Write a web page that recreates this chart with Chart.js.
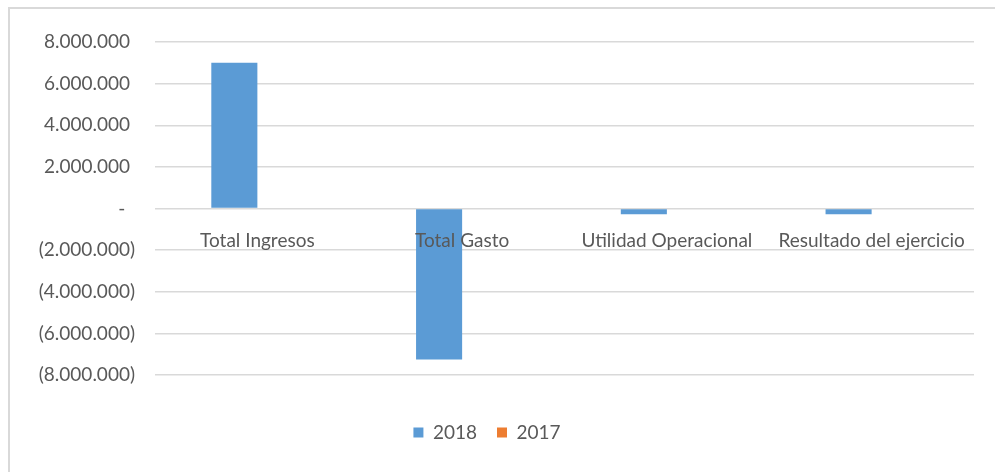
<!DOCTYPE html>
<html>
<head>
<meta charset="utf-8">
<script src="https://cdn.jsdelivr.net/npm/chart.js@4.4.1/dist/chart.umd.min.js"></script>
<style>
  html, body { margin: 0; padding: 0; background: #fff; }
  #wrap { position: relative; width: 995px; height: 472px; overflow: hidden; }
  #frame {
    position: absolute; left: 8px; top: 7px; width: 1000px; height: 480px;
    border-left: 2px solid #d9d9d9; border-top: 2px solid #d9d9d9;
  }
  #box { position: absolute; left: 0; top: 0; width: 995px; height: 472px; }
</style>
</head>
<body>
<div id="wrap">
  <div id="frame"></div>
  <div id="box"><canvas id="resultChart"></canvas></div>
</div>
<script>
const categories = [
  "Total Ingresos",
  "Total Gasto",
  "Utilidad Operacional",
  "Resultado del ejercicio",
];
const values2018 = [7000000, -7250000, -280000, -280000];
const values2017 = [0, 0, 0, 0];
const yMin = -8000000;
const yMax = 8000000;
const yStep = 2000000;

const textColor = "#595959";
const font = { family: "Lato", size: 19 };

// excel style: 1.000.000 / (1.000.000) / -
const fmt = (v) => {
  if (v === 0) return "-  ";
  const s = Math.abs(v).toString().replace(/\B(?=(\d{3})+(?!\d))/g, ".");
  return v < 0 ? `(${s})` : `${s} `;
};

const ctx = document.getElementById("resultChart");

new Chart(ctx, {
  type: "bar",
  data: {
    labels: categories,
    datasets: [
      {
        label: "2018",
        data: values2018,
        backgroundColor: "#5b9bd5",
        borderWidth: 0,
        categoryPercentage: 0.45,
        barPercentage: 1,
      },
      {
        label: "2017",
        data: values2017,
        backgroundColor: "#ed7d31",
        borderWidth: 0,
        categoryPercentage: 0.45,
        barPercentage: 1,
      },
    ],
  },
  options: {
    responsive: true,
    maintainAspectRatio: false,
    animation: false,
    layout: {
      padding: { top: 42, right: 21, bottom: 20, left: 0 },
    },
    plugins: {
      legend: {
        position: "bottom",
        // empty title only used as spacer above the legend row
        title: {
          display: true,
          text: " ",
          font: { size: 10, lineHeight: 1 },
          padding: { top: 18, bottom: 0 },
        },
        labels: {
          boxWidth: 10,
          boxHeight: 10,
          padding: 20,
          color: textColor,
          font: font,
        },
      },
      tooltip: { enabled: false },
    },
    scales: {
      x: {
        position: { y: 0 },
        grid: { display: false },
        border: { display: false },
        ticks: {
          z: 1,
          color: textColor,
          font: font,
          padding: 13,
          maxRotation: 0,
          autoSkip: false,
        },
      },
      y: {
        min: yMin,
        max: yMax,
        afterFit: (scale) => {
          scale.width = 155;
        },
        ticks: {
          stepSize: yStep,
          color: textColor,
          font: font,
          padding: 20,
          callback: (value) => fmt(value),
        },
        grid: {
          color: "#d9d9d9",
          lineWidth: 1.5,
          drawTicks: false,
        },
        border: { display: false },
      },
    },
  },
});
</script>
</body>
</html>
